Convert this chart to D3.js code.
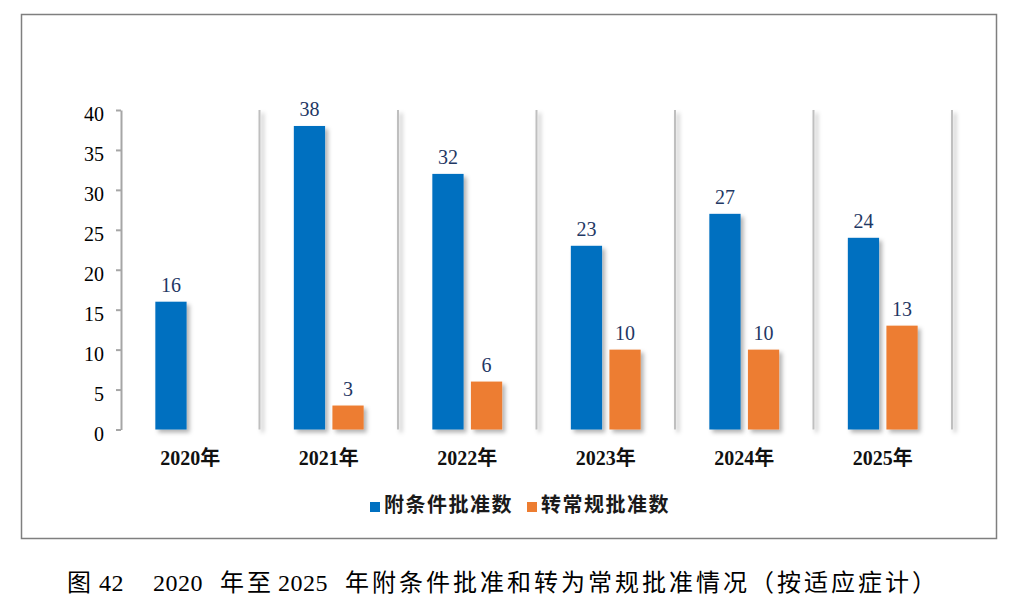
<!DOCTYPE html>
<html>
<head>
<meta charset="utf-8">
<script src="https://cdn.jsdelivr.net/npm/d3@7"></script>
<style>
  body { margin: 0; background: #fff; }
  svg { display: block; }
</style>
</head>
<body>
<div id="vis"></div>
<script>
// data
var years = ['2020年', '2021年', '2022年', '2023年', '2024年', '2025年'];
var seriesNames = ['附条件批准数', '转常规批准数'];
var conditional = [16, 38, 32, 23, 27, 24];
var converted = [null, 3, 6, 10, 10, 13];
var yTicks = [0, 5, 10, 15, 20, 25, 30, 35, 40];

// caption pieces: text, letter spacing, gap before
var titleParts = [
  ['图', 3, 0],
  ['42', 0.5, 5],
  ['2020', 0.5, 29],
  ['年至', 3, 17],
  ['2025', 0.5, 4],
  ['年附条件批准和转为常规批准情况（按适应症计）', 3, 17]
];

var colors = ['#0070C0', '#ED7D31'];
var serif = '"Times New Roman", "Liberation Serif", "Noto Sans CJK SC", serif';

var width = 1010;
var height = 609;
var plot = { left: 121, right: 952, top: 110, bottom: 429.5 };

var svg = d3.select('#vis')
    .append('svg')
    .attr('width', width)
    .attr('height', height);

// shadow
var defs = svg.append('defs');
defs.append('filter')
    .attr('id', 'shadow')
    .attr('x', '-20%').attr('y', '-20%')
    .attr('width', '160%').attr('height', '160%')
    .append('feDropShadow')
    .attr('dx', 3).attr('dy', 3)
    .attr('stdDeviation', 2)
    .attr('flood-color', '#000')
    .attr('flood-opacity', 0.3);

// outer frame
svg.append('rect')
    .attr('x', 21.5).attr('y', 14.5)
    .attr('width', 975).attr('height', 524)
    .attr('fill', 'none')
    .attr('stroke', '#7f7f7f')
    .attr('stroke-width', 1.5);

var x = d3.scaleBand()
    .domain(years)
    .range([plot.left, plot.right])
    .padding(0);

var xInner = d3.scaleBand()
    .domain(seriesNames)
    .range([0, x.bandwidth()])
    .paddingInner(0.19)
    .paddingOuter(0.89);

var y = d3.scaleLinear()
    .domain([0, 40])
    .range([plot.bottom, plot.top]);

// vertical separators
var seps = years.slice(1).map(function (d) { return x(d); }).concat([plot.right]);
svg.append('g')
    .attr('filter', 'url(#shadow)')
    .selectAll('line')
    .data(seps)
    .enter().append('line')
    .attr('x1', function (d) { return d; })
    .attr('x2', function (d) { return d; })
    .attr('y1', y(40))
    .attr('y2', y(0))
    .attr('stroke', '#BFBFBF')
    .attr('stroke-width', 2);

// floor
svg.append('line')
    .attr('x1', plot.left).attr('x2', plot.right)
    .attr('y1', y(0) + 1).attr('y2', y(0) + 1)
    .attr('stroke', '#C0C0C0')
    .attr('stroke-width', 2)
    .attr('filter', 'url(#shadow)');

// y axis
var yAxis = svg.append('g')
    .attr('transform', 'translate(' + plot.left + ',0)')
    .call(d3.axisLeft(y).tickValues(yTicks).tickSize(5).tickSizeOuter(0).tickFormat(''));
yAxis.select('.domain').attr('stroke', '#A6A6A6').attr('stroke-width', 2);
yAxis.selectAll('.tick line').attr('stroke', '#A6A6A6').attr('stroke-width', 2);

svg.append('g')
    .selectAll('text')
    .data(yTicks)
    .enter().append('text')
    .attr('x', 104)
    .attr('y', function (d) { return y(d) + 11; })
    .attr('text-anchor', 'end')
    .attr('font-family', serif)
    .attr('font-size', 20)
    .attr('fill', '#000')
    .text(function (d) { return d; });

// bars
var series = [conditional, converted];
series.forEach(function (vals, i) {
  var rows = years.map(function (yr, j) { return { year: yr, value: vals[j] }; })
      .filter(function (d) { return d.value != null; });

  svg.append('g')
      .attr('filter', 'url(#shadow)')
      .selectAll('rect')
      .data(rows)
      .enter().append('rect')
      .attr('x', function (d) { return x(d.year) + xInner(seriesNames[i]); })
      .attr('y', function (d) { return y(d.value); })
      .attr('width', xInner.bandwidth())
      .attr('height', function (d) { return y(0) - y(d.value); })
      .attr('fill', colors[i]);

  svg.append('g')
      .selectAll('text')
      .data(rows)
      .enter().append('text')
      .attr('x', function (d) { return x(d.year) + xInner(seriesNames[i]) + xInner.bandwidth() / 2; })
      .attr('y', function (d) { return y(d.value) - 10; })
      .attr('text-anchor', 'middle')
      .attr('font-family', serif)
      .attr('font-size', 20)
      .attr('fill', '#1F3864')
      .text(function (d) { return d.value; });
});

// category labels
svg.append('g')
    .selectAll('text')
    .data(years)
    .enter().append('text')
    .attr('x', function (d) { return x(d) + x.bandwidth() / 2; })
    .attr('y', 465)
    .attr('text-anchor', 'middle')
    .attr('font-family', serif)
    .attr('font-weight', 'bold')
    .attr('font-size', 20)
    .attr('fill', '#111')
    .text(function (d) { return d; });

// legend
var legendPos = [370, 527];
var legend = svg.append('g')
    .selectAll('g')
    .data(seriesNames)
    .enter().append('g')
    .attr('transform', function (d, i) { return 'translate(' + legendPos[i] + ',0)'; });

legend.append('rect')
    .attr('x', 0).attr('y', 502)
    .attr('width', 10).attr('height', 10)
    .attr('fill', function (d, i) { return colors[i]; });

legend.append('text')
    .attr('x', 14)
    .attr('y', 512)
    .attr('font-family', '"Noto Sans CJK SC", sans-serif')
    .attr('font-weight', 'bold')
    .attr('font-size', 20)
    .attr('letter-spacing', 1.5)
    .attr('fill', '#1a1a1a')
    .text(function (d) { return d; });

// caption
var caption = svg.append('text')
    .attr('x', 67)
    .attr('y', 591)
    .attr('font-family', serif)
    .attr('font-size', 24)
    .attr('fill', '#000');

caption.selectAll('tspan')
    .data(titleParts)
    .enter().append('tspan')
    .attr('dx', function (d) { return d[2]; })
    .attr('letter-spacing', function (d) { return d[1]; })
    .text(function (d) { return d[0]; });
</script>
</body>
</html>
